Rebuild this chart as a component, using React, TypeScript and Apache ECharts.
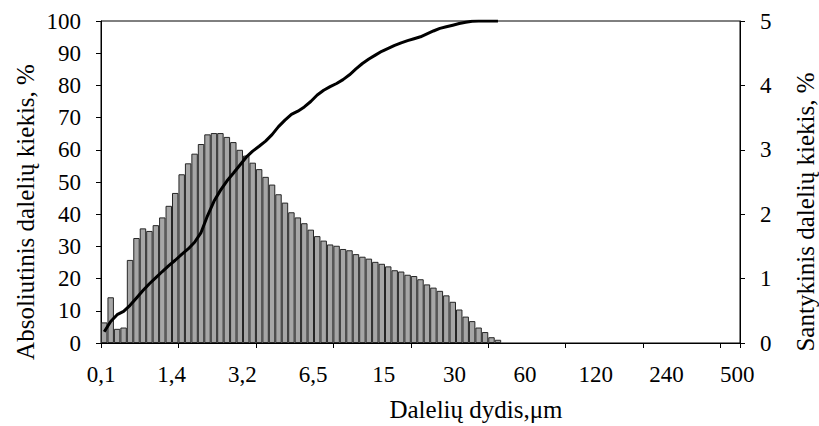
import React, { useEffect, useRef } from "react";
import * as echarts from "echarts";

// X axis: 99 size classes (bins); labelled sizes shown under the axis
const binCount = 99;
const categories: string[] = Array.from({ length: binCount }, (_, i) => String(i));
const sizeLabels = ["0,1", "1,4", "3,2", "6,5", "15", "30", "60", "120", "240", "500"];

// Relative particle amount, % (right axis) per size class
const relativeShare = [
  0.32, 0.71, 0.22, 0.24, 1.29, 1.63, 1.78, 1.74, 1.83, 1.95,
  2.13, 2.33, 2.62, 2.79, 2.94, 3.09, 3.24, 3.26, 3.26, 3.2,
  3.12, 3.0, 2.91, 2.8, 2.7, 2.58, 2.46, 2.31, 2.18, 2.03,
  1.95, 1.86, 1.76, 1.66, 1.59, 1.53, 1.51, 1.46, 1.44, 1.38,
  1.34, 1.31, 1.26, 1.23, 1.19, 1.13, 1.11, 1.06, 1.04, 0.99,
  0.91, 0.86, 0.81, 0.74, 0.64, 0.52, 0.41, 0.34, 0.24, 0.17,
  0.09, 0.05,
];

// Absolute (cumulative) particle amount, % (left axis)
const cumulative = [
  3.5, 6.7, 8.8, 9.8, 11.7, 14.0, 16.3, 18.4, 20.3, 22.2,
  24.0, 25.7, 27.5, 29.2, 31.3, 34.3, 39.5, 44.0, 47.4, 50.3,
  52.7, 55.2, 57.7, 59.6, 61.1, 62.7, 64.7, 67.2, 69.2, 71.0,
  72.0, 73.3, 75.0, 77.0, 78.5, 79.6, 80.6, 81.8, 83.3, 85.1,
  86.8, 88.2, 89.4, 90.6, 91.5, 92.4, 93.2, 93.9, 94.5, 95.1,
  96.0, 96.9, 97.7, 98.2, 98.7, 99.2, 99.6, 99.9, 100, 100,
  100, 100,
];

const leftTicks = { min: 0, max: 100, interval: 10 };
const rightTicks = { min: 0, max: 5, interval: 1 };

const FONT = "'Liberation Serif', 'Times New Roman', serif";

export default function App() {
  const ref = useRef<HTMLDivElement>(null);
  useEffect(() => {
    if (!ref.current) return;
    const chart = echarts.init(ref.current, undefined, { renderer: "svg" });
    const labelStyle = { fontFamily: FONT, fontSize: 23, color: "#000", margin: 20 };
    const axisLine = { show: true, lineStyle: { color: "#000", width: 1 } };
    const axisTick = { show: true, length: 5, lineStyle: { color: "#000", width: 1 } };
    chart.setOption({
      animation: false,
      backgroundColor: "#fff",
      grid: {
        left: 101,
        top: 21,
        width: 639,
        height: 322,
        show: true,
        borderColor: "#000",
        borderWidth: 1,
        backgroundColor: "transparent",
      },
      xAxis: [
        {
          type: "category",
          data: categories,
          boundaryGap: true,
          position: "bottom",
          axisLine,
          axisTick: { ...axisTick, interval: 11 },
          axisLabel: { show: false },
          splitLine: { show: false },
        },
        {
          type: "value",
          position: "bottom",
          min: 0,
          max: 9.04,
          interval: 1,
          axisLine: { show: false },
          axisTick: { show: false },
          splitLine: { show: false },
          axisLabel: {
            ...labelStyle,
            formatter: (v: number) =>
              Number.isInteger(v) && sizeLabels[v] !== undefined ? sizeLabels[v] : "",
          },
        },
      ],
      yAxis: [
        {
          type: "value",
          position: "left",
          ...leftTicks,
          axisLine,
          axisTick,
          splitLine: { show: false },
          axisLabel: labelStyle,
        },
        {
          type: "value",
          position: "right",
          ...rightTicks,
          axisLine,
          axisTick,
          splitLine: { show: false },
          axisLabel: labelStyle,
        },
      ],
      series: [
        {
          type: "bar",
          xAxisIndex: 0,
          yAxisIndex: 1,
          data: relativeShare,
          barCategoryGap: "0%",
          itemStyle: { color: "#a6a6a6", borderColor: "#262626", borderWidth: 1 },
          z: 2,
        },
        {
          type: "line",
          xAxisIndex: 0,
          yAxisIndex: 0,
          data: cumulative,
          showSymbol: false,
          symbol: "none",
          lineStyle: { color: "#000", width: 3 },
          z: 3,
        },
      ],
      graphic: [
        {
          type: "text",
          x: 25,
          y: 212,
          rotation: Math.PI / 2,
          style: {
            text: "Absoliutinis dalelių kiekis, %",
            fontFamily: FONT,
            fontSize: 25,
            fill: "#000",
            align: "center",
            verticalAlign: "middle",
          },
        },
        {
          type: "text",
          x: 805,
          y: 212,
          rotation: Math.PI / 2,
          style: {
            text: "Santykinis dalelių kiekis, %",
            fontFamily: FONT,
            fontSize: 25,
            fill: "#000",
            align: "center",
            verticalAlign: "middle",
          },
        },
        {
          type: "text",
          x: 476,
          y: 409,
          style: {
            text: "Dalelių dydis,μm",
            fontFamily: FONT,
            fontSize: 25,
            fill: "#000",
            align: "center",
            verticalAlign: "middle",
          },
        },
      ],
    });
    return () => chart.dispose();
  }, []);
  return (
    <div
      ref={ref}
      style={{ position: "fixed", left: 0, top: 0, width: 819, height: 426 }}
    />
  );
}
